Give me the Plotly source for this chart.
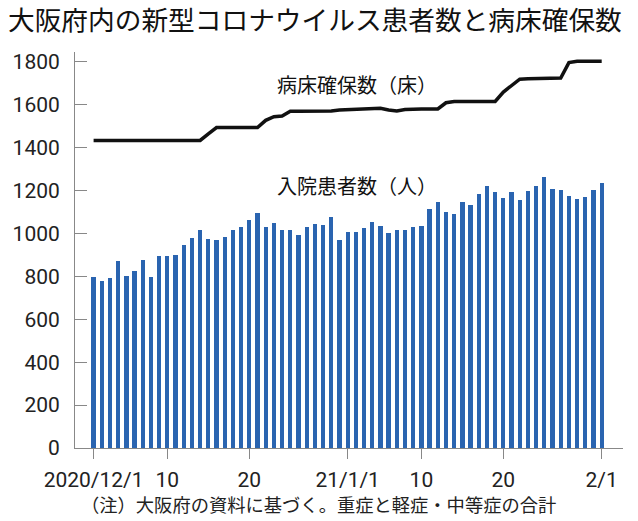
import pandas as pd
import plotly.graph_objects as go

dates = pd.date_range("2020-12-01", "2021-02-01", freq="D")

inpatients = [
    796, 780, 795, 871, 800, 826, 877, 797, 895, 895,
    901, 945, 978, 1018, 974, 969, 985, 1018, 1031, 1062,
    1097, 1031, 1051, 1015, 1018, 991, 1031, 1046, 1040, 1078,
    969, 1006, 1006, 1026, 1054, 1037, 1003, 1018, 1017, 1031,
    1037, 1115, 1146, 1100, 1092, 1146, 1134, 1186, 1220, 1195,
    1165, 1192, 1158, 1198, 1220, 1266, 1206, 1201, 1174, 1160,
    1171, 1201, 1237,
]

beds = [
    1434, 1434, 1434, 1434, 1434, 1434, 1434, 1434, 1434, 1434,
    1434, 1434, 1434, 1434, 1465, 1494, 1494, 1494, 1494, 1494,
    1494, 1528, 1545, 1548, 1570, 1570, 1570, 1570, 1570, 1572,
    1576, 1578, 1580, 1580, 1580, 1584, 1576, 1572, 1578, 1581,
    1581, 1581, 1581, 1610, 1616, 1616, 1616, 1616, 1616, 1616,
    1660, 1690, 1720, 1722, 1722, 1722, 1722, 1725, 1797, 1803,
    1803, 1803, 1803,
]

tick_dates = ["2020-12-01", "2020-12-10", "2020-12-20", "2021-01-01",
              "2021-01-10", "2021-01-20", "2021-02-01"]
tick_labels = ["2020/12/1", "10", "20", "21/1/1", "10", "20", "2/1"]
y_ticks = [0, 200, 400, 600, 800, 1000, 1200, 1400, 1600, 1800]

NUM_FONT = "Roboto, Noto Sans CJK JP"
JP_FONT = "Noto Sans CJK JP"

fig = go.Figure()
fig.add_trace(go.Bar(
    x=dates, y=inpatients, width=0.52 * 86400000,
    marker=dict(color="#2a64b0", line=dict(width=0)),
    showlegend=False,
))
fig.add_trace(go.Scatter(
    x=dates, y=beds, mode="lines",
    line=dict(color="#111111", width=3.5),
    showlegend=False,
))

start = pd.Timestamp("2020-12-01")
fig.update_layout(
    width=638, height=521,
    margin=dict(l=75, r=15, t=52, b=73),
    paper_bgcolor="white", plot_bgcolor="white",
    title=dict(
        text="大阪府内の新型コロナウイルス患者数と病床確保数",
        font=dict(family=JP_FONT, size=26.7, color="#111111"),
        x=8 / 638, xanchor="left", xref="container",
        y=1 - 21 / 521, yanchor="middle", yref="container",
    ),
    xaxis=dict(
        type="date",
        range=[start - pd.Timedelta(days=2.27), start + pd.Timedelta(days=64.6)],
        tickvals=pd.to_datetime(tick_dates), ticktext=tick_labels,
        ticks="outside", ticklen=10, tickcolor="#888888", tickwidth=1,
        showline=True, linecolor="#888888", linewidth=1,
        showgrid=False, zeroline=False,
        ticklabelstandoff=3,
        tickfont=dict(family=NUM_FONT, size=21, color="#222222"),
    ),
    yaxis=dict(
        range=[0, 1846.6],
        tickvals=y_ticks,
        ticks="inside", ticklen=12, tickcolor="#888888", tickwidth=1,
        showline=True, linecolor="#888888", linewidth=1,
        showgrid=False, zeroline=False,
        ticklabelstandoff=10,
        tickfont=dict(family=NUM_FONT, size=21, color="#222222"),
    ),
    bargap=0,
)

fig.add_annotation(
    x=start + pd.Timedelta(days=32.1), y=1694, xref="x", yref="y",
    text="病床確保数（床）", showarrow=False,
    font=dict(family=JP_FONT, size=20, color="#111111"),
)
fig.add_annotation(
    x=start + pd.Timedelta(days=32.1), y=1223, xref="x", yref="y",
    text="入院患者数（人）", showarrow=False,
    font=dict(family=JP_FONT, size=20, color="#111111"),
)
fig.add_annotation(
    x=(318.5 - 75) / 548, y=(448 - 504) / 396, xref="paper", yref="paper",
    text="（注）大阪府の資料に基づく。重症と軽症・中等症の合計", showarrow=False,
    font=dict(family=JP_FONT, size=18.3, color="#222222"),
    xanchor="center", yanchor="middle",
)

fig.write_html("out.html")
